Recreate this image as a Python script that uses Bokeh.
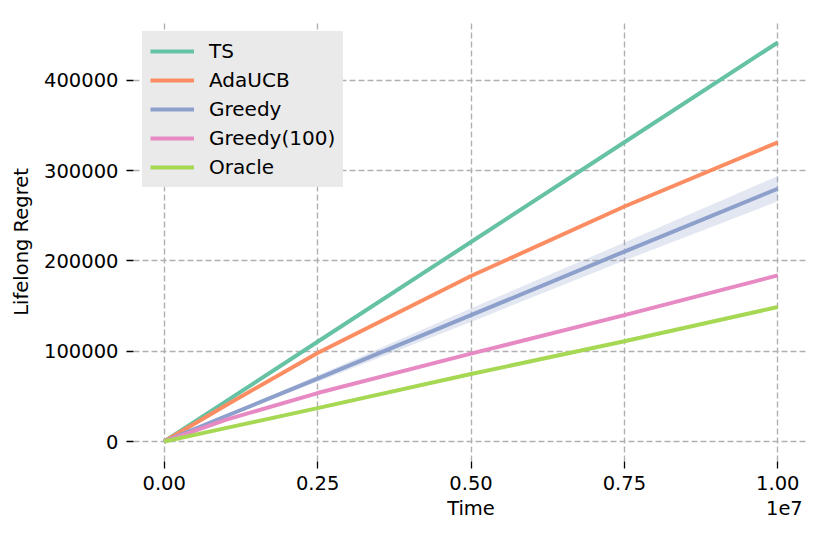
from bokeh.plotting import figure
from bokeh.models import Range1d, FixedTicker, NumeralTickFormatter, Legend, LegendItem, LinearAxis
from bokeh.embed import file_html
from bokeh.resources import INLINE

# ---- data ----
time = [0, 1.0e6, 2.5e6, 5.0e6, 7.5e6, 1.0e7]
ts = [0, 44200, 110500, 221000, 331500, 442000]
adaucb = [0, 40000, 98100, 183300, 260300, 331400]
greedy = [0, 28000, 69600, 140000, 210400, 280000]
greedy_sd = [0, 1500, 3500, 7500, 10000, 14000]
greedy100 = [0, 24000, 53700, 97400, 140000, 184000]
oracle = [0, 14900, 37000, 74800, 111100, 149000]

series_names = ["TS", "AdaUCB", "Greedy", "Greedy(100)", "Oracle"]
colors = ["#66c2a5", "#fc8d62", "#8da0cb", "#e78ac3", "#a6d854"]

x_ticks = [0, 2.5e6, 5.0e6, 7.5e6, 1.0e7]
x_tick_labels = ["0.00", "0.25", "0.50", "0.75", "1.00"]
y_ticks = [0, 100000, 200000, 300000, 400000]
x_label = "Time"
y_label = "Lifelong Regret"
x_offset_text = "1e7"

FONT = "DejaVu Sans"
FS = "19.5px"

# ranges with 5% margins like matplotlib
xmin, xmax = min(time), max(time)
xpad = 0.05 * (xmax - xmin)
allv = ts + adaucb + greedy100 + oracle + [g + s for g, s in zip(greedy, greedy_sd)] + [g - s for g, s in zip(greedy, greedy_sd)]
ymin, ymax = min(allv), max(allv)
ypad = 0.05 * (ymax - ymin)

p = figure(width=822, height=522, output_backend="svg", toolbar_location=None,
           x_range=Range1d(xmin - xpad, xmax + xpad),
           y_range=Range1d(ymin - ypad, ymax + ypad),
           min_border_left=133, min_border_right=14, min_border_top=22, min_border_bottom=40)
p.outline_line_color = None
p.background_fill_color = "white"

# band
p.varea(x=time, y1=[g - s for g, s in zip(greedy, greedy_sd)],
        y2=[g + s for g, s in zip(greedy, greedy_sd)],
        fill_color="#8da0cb", fill_alpha=0.25)

items = []
for name, ys, c in zip(series_names, [ts, adaucb, greedy, greedy100, oracle], colors):
    r = p.line(time, ys, line_color=c, line_width=4)
    items.append(LegendItem(label=name, renderers=[r]))

legend = Legend(items=items, location="top_left")
legend.margin = 9
legend.padding = 7
legend.spacing = 5
legend.glyph_width = 44
legend.glyph_height = 20
legend.label_height = 20
legend.label_standoff = 15
legend.label_text_font = FONT
legend.label_text_font_size = "20px"
legend.label_text_color = "#000000"
legend.background_fill_color = "#eaeaea"
legend.background_fill_alpha = 1.0
legend.border_line_color = "#eaeaea"
legend.border_line_width = 1
p.add_layout(legend)

# axes
p.xaxis.ticker = FixedTicker(ticks=x_ticks)
p.xaxis.major_label_overrides = {t: l for t, l in zip(x_ticks, x_tick_labels)}
p.yaxis.ticker = FixedTicker(ticks=y_ticks)
p.yaxis.formatter = NumeralTickFormatter(format="0")
for ax in (p.xaxis, p.yaxis):
    ax.axis_line_color = None
    ax.major_tick_in = 0
    ax.major_tick_out = 7
    ax.major_tick_line_color = "#000000"
    ax.major_tick_line_width = 1.3
    ax.minor_tick_line_color = None
    ax.major_label_text_font = FONT
    ax.major_label_text_font_size = FS
    ax.major_label_text_color = "#000000"
    ax.axis_label_text_font = FONT
    ax.axis_label_text_font_size = FS
    ax.axis_label_text_font_style = "normal"
    ax.axis_label_text_color = "#000000"
p.yaxis.axis_label = y_label
p.xaxis.major_label_standoff = 7
p.yaxis.major_label_standoff = 8
p.yaxis.axis_label_standoff = 8

# second row below the x axis: axis title centred and offset text at the right
label_row = LinearAxis(ticker=FixedTicker(ticks=[(xmin + xmax) / 2, xmax + 0.0107e7]),
                       major_label_overrides={(xmin + xmax) / 2: x_label, xmax + 0.0107e7: x_offset_text},
                       axis_line_color=None, major_tick_line_color=None, minor_tick_line_color=None,
                       major_tick_in=0, major_tick_out=0, major_label_standoff=4,
                       major_label_text_font=FONT, major_label_text_font_size=FS,
                       major_label_text_color="#000000")
p.add_layout(label_row, "below")

# grid
for g in (p.xgrid, p.ygrid):
    g.grid_line_color = "#b0b0b0"
    g.grid_line_dash = "6 3"
    g.grid_line_width = 1.4

open("out.html", "w").write(file_html(p, INLINE))
